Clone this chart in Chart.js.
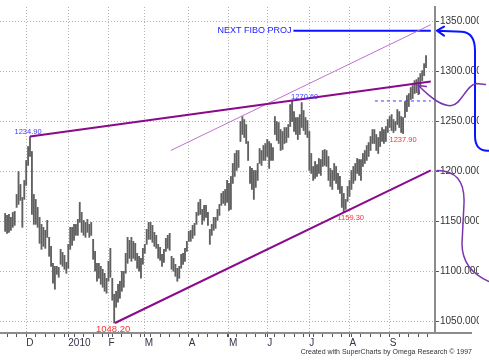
<!DOCTYPE html>
<html>
<head>
<meta charset="utf-8">
<script src="https://cdn.jsdelivr.net/npm/chart.js@4.4.0/dist/chart.umd.min.js"></script>
<style>
  body { margin: 0; background: #fff; }
  #wrap { width: 489px; height: 363px; }
</style>
</head>
<body>
<div id="wrap"><canvas id="chart" width="489" height="363"></canvas></div>
<script>
/** daily bars, low and high, one per trading day from mid Nov 2009 */
const barLows = [
  1140, 1138, 1139, 1141, 1144, 1146, 1164, 1167, 1171, 1144,
  1172, 1186, 1206, 1215, 1157, 1147, 1147, 1144, 1128, 1122,
  1125, 1123, 1134, 1115, 1105, 1088, 1082, 1097, 1094, 1107,
  1105, 1102, 1098, 1103, 1122, 1126, 1131, 1136, 1136, 1149,
  1139, 1136, 1134, 1139, 1134, 1136, 1112, 1100, 1090, 1093,
  1087, 1084, 1080, 1078, 1090, 1094, 1071, 1048.2, 1064, 1069,
  1073, 1080, 1084, 1098, 1108, 1113, 1110, 1113, 1111, 1103,
  1100, 1093, 1107, 1118, 1127, 1132, 1132, 1129, 1125, 1123,
  1113, 1111, 1105, 1109, 1120, 1123, 1121, 1102, 1100, 1095,
  1090, 1093, 1103, 1107, 1110, 1120, 1130, 1130, 1133, 1136,
  1147, 1156, 1157, 1147, 1151, 1154, 1146, 1127, 1136, 1141,
  1143, 1151, 1156, 1166, 1168, 1166, 1169, 1161, 1162, 1188,
  1195, 1201, 1204, 1230, 1237, 1234, 1228, 1211, 1188, 1182,
  1172, 1184, 1191, 1208, 1206, 1211, 1211, 1215, 1203, 1211,
  1211, 1237, 1231, 1228, 1221, 1222, 1228, 1229, 1234, 1245,
  1250, 1240, 1237, 1232, 1237, 1244, 1241, 1237, 1234, 1201,
  1198, 1191, 1193, 1195, 1198, 1196, 1205, 1206, 1205, 1191,
  1185, 1182, 1191, 1188, 1182, 1178, 1164, 1159.3, 1162, 1170,
  1175, 1182, 1188, 1191, 1198, 1196, 1191, 1205, 1208, 1211,
  1215, 1221, 1228, 1228, 1221, 1218, 1225, 1230, 1228, 1230,
  1239, 1244, 1241, 1239, 1241, 1247, 1244, 1239, 1237.9, 1254,
  1260, 1265, 1272, 1273, 1278, 1279, 1277, 1286, 1291, 1296,
  1304
]
const barHighs = [
  1158, 1156, 1157, 1154, 1159, 1160, 1177, 1200, 1187, 1174,
  1191, 1211, 1225, 1234.9, 1220, 1177, 1172, 1164, 1154, 1147,
  1144, 1141, 1151, 1134, 1125, 1108, 1105, 1105, 1104, 1122,
  1119, 1116, 1109, 1127, 1144, 1144, 1147, 1147, 1152, 1169,
  1159, 1151, 1149, 1152, 1147, 1149, 1132, 1120, 1108, 1108,
  1105, 1102, 1098, 1093, 1110, 1123, 1093, 1077, 1080, 1087,
  1090, 1100, 1100, 1118, 1134, 1131, 1134, 1130, 1128, 1118,
  1115, 1113, 1123, 1127, 1142, 1149, 1149, 1146, 1139, 1136,
  1127, 1124, 1117, 1122, 1133, 1136, 1138, 1115, 1113, 1107,
  1103, 1105, 1117, 1118, 1123, 1130, 1140, 1141, 1146, 1148,
  1159, 1169, 1172, 1162, 1166, 1166, 1159, 1142, 1147, 1154,
  1154, 1162, 1167, 1178, 1180, 1182, 1191, 1188, 1195, 1208,
  1218, 1221, 1221, 1250, 1255, 1252, 1247, 1230, 1205, 1203,
  1201, 1201, 1208, 1223, 1221, 1226, 1228, 1232, 1230, 1228,
  1224, 1255, 1250, 1249, 1242, 1240, 1244, 1244, 1247, 1267,
  1270.6, 1260, 1254, 1254, 1257, 1269, 1261, 1254, 1251, 1240,
  1218, 1205, 1210, 1207, 1213, 1212, 1221, 1222, 1221, 1215,
  1203, 1201, 1208, 1205, 1198, 1195, 1185, 1178, 1172, 1185,
  1191, 1201, 1205, 1208, 1213, 1212, 1212, 1218, 1221, 1226,
  1229, 1235, 1242, 1242, 1237, 1234, 1240, 1244, 1242, 1245,
  1252, 1255, 1257, 1252, 1250, 1262, 1260, 1255, 1254, 1270,
  1276, 1278, 1284, 1286, 1291, 1292, 1294, 1298, 1301, 1308,
  1316
]
const monthLabels = ['D', '2010', 'F', 'M', 'A', 'M', 'J', 'J', 'A', 'S']
const monthStarts = [11, 33, 54, 73, 96, 117, 137, 159, 180, 201]
const priceTicks = [1050, 1100, 1150, 1200, 1250, 1300, 1350]
const slotCount = 223

/** trend lines: [start bar, start price, end bar, end price] */
const upperLine = [13, 1234.9, 222.5, 1290]
const fanLine = [86.6, 1221, 222.5, 1347]
const lowerLine = [57.4, 1048.2, 222.5, 1201]
const fiboLevel = 1341
const fiboStart = 150.7
const pivotLevel = 1270.6
const pivotStart = 193.3

const priceNotes = [
  {i: 13, value: 1234.9, text: '1234.90', color: '#3a3aff', dx: -2, dy: -5, size: 7.5},
  {i: 150, value: 1270.6, text: '1270.60', color: '#3a3aff', dx: -1, dy: -4, size: 7.5, align: 'left'},
  {i: 208, value: 1237.9, text: '1237.90', color: '#ff3030', dx: 0, dy: 6, size: 7.5},
  {i: 177, value: 1159.3, text: '1159.30', color: '#ff3030', dx: 7, dy: 6, size: 7.5},
  {i: 57, value: 1048.2, text: '1048.20', color: '#ff3030', dx: -1, dy: 6, size: 9.5}
]

const fontFamily = '"Liberation Sans", Arial, sans-serif'
Chart.defaults.font.family = fontFamily

function segment(line) {
  return [{x: line[0], y: line[1]}, {x: line[2], y: line[3]}]
}

function lineSet(data, color, width, dash) {
  return {
    type: 'line', data: data, borderColor: color, borderWidth: width,
    borderDash: dash || [], pointRadius: 0, order: 1, tension: 0
  }
}

function weekTicks() {
  const ticks = []
  for (let i = 1; i < slotCount; i += 5) ticks.push(i)
  monthStarts.forEach(m => { if (!ticks.includes(m)) ticks.push(m) })
  return ticks.sort((a, b) => a - b)
}

/** price notes, arrows and the footer */
const drawingsPlugin = {
  id: 'drawings',
  afterDatasetsDraw(chart) {
    const {ctx, scales: {x, y}} = chart
    ctx.save()
    ctx.textBaseline = 'middle'
    priceNotes.forEach(n => {
      ctx.font = `${n.size}px ${fontFamily}`
      ctx.fillStyle = n.color
      ctx.textAlign = n.align || 'center'
      ctx.fillText(n.text, x.getPixelForValue(n.i) + n.dx, y.getPixelForValue(n.value) + n.dy)
    })
    ctx.font = `9px ${fontFamily}`
    ctx.fillStyle = '#2020ff'
    ctx.textAlign = 'right'
    ctx.fillText('NEXT FIBO PROJ', x.getPixelForValue(fiboStart) - 2, y.getPixelForValue(fiboLevel))
    ctx.restore()
  },
  afterDraw(chart) {
    const {ctx, chartArea, scales: {x, y}} = chart
    const r = chartArea.right
    ctx.save()
    // axis line runs on under the labels
    ctx.strokeStyle = '#8c8c8c'
    ctx.lineWidth = 2
    ctx.beginPath()
    ctx.moveTo(r, chartArea.bottom)
    ctx.lineTo(r + 37, chartArea.bottom)
    ctx.stroke()
    ctx.fillStyle = '#fff'
    ctx.fillRect(r + 44, 0, 20, chartArea.bottom - 2)

    ctx.lineCap = 'round'
    ctx.lineJoin = 'round'
    // blue arrow
    const fy = y.getPixelForValue(fiboLevel)
    ctx.strokeStyle = '#0a14ff'
    ctx.lineWidth = 2
    ctx.beginPath()
    ctx.moveTo(r + 2, fy)
    ctx.lineTo(r + 27, fy + 1)
    ctx.quadraticCurveTo(r + 40, fy + 2, r + 40, fy + 20)
    ctx.lineTo(r + 40, fy + 105)
    ctx.quadraticCurveTo(r + 40, fy + 121, r + 54, fy + 120)
    ctx.moveTo(r + 9, fy - 4)
    ctx.lineTo(r + 2, fy)
    ctx.lineTo(r + 9, fy + 5)
    ctx.stroke()

    // purple arrow at the break
    const tx = x.getPixelForValue(216)
    const ty = y.getPixelForValue(1286)
    ctx.strokeStyle = '#7a35b0'
    ctx.lineWidth = 1.5
    ctx.beginPath()
    ctx.moveTo(tx, ty)
    ctx.bezierCurveTo(tx + 14, ty + 14, tx + 24, ty + 21, tx + 33, ty + 20)
    ctx.bezierCurveTo(tx + 43, ty + 19, tx + 48, ty - 1, tx + 58, ty - 2)
    ctx.lineTo(tx + 67, ty - 1)
    ctx.moveTo(tx + 8, ty + 1)
    ctx.lineTo(tx, ty)
    ctx.lineTo(tx + 1, ty + 8)
    ctx.stroke()

    // purple arrow at the lower line
    const ly = y.getPixelForValue(lowerLine[3])
    ctx.beginPath()
    ctx.moveTo(r + 2, ly)
    ctx.bezierCurveTo(r + 20, ly, r + 30, ly + 10, r + 29, ly + 33)
    ctx.lineTo(r + 27, ly + 73)
    ctx.bezierCurveTo(r + 27, ly + 95, r + 40, ly + 105, r + 54, ly + 111)
    ctx.stroke()

    ctx.font = `7px ${fontFamily}`
    ctx.fillStyle = '#333'
    ctx.textAlign = 'right'
    ctx.textBaseline = 'middle'
    ctx.fillText('Created with SuperCharts by Omega Research \u00a9 1997', r + 37, chartArea.bottom + 19)
    ctx.restore()
  }
}

new Chart(document.getElementById('chart'), {
  type: 'bar',
  data: {
    datasets: [
      {
        type: 'bar',
        data: barLows.map((lo, i) => ({x: i, y: [lo, barHighs[i]]})),
        backgroundColor: '#606060',
        barThickness: 1.2,
        order: 10
      },
      lineSet(segment(upperLine), '#8a0a8a', 2),
      lineSet(segment(fanLine), '#c070d0', 1),
      lineSet(segment(lowerLine), '#8a0a8a', 2),
      lineSet([{x: fiboStart, y: fiboLevel}, {x: slotCount - 0.5, y: fiboLevel}], '#0a14ff', 2),
      lineSet([{x: pivotStart, y: pivotLevel}, {x: slotCount - 0.5, y: pivotLevel}], '#3a3aff', 1, [3, 3])
    ]
  },
  options: {
    responsive: false,
    animation: false,
    layout: { padding: 0 },
    plugins: { legend: { display: false }, tooltip: { enabled: false } },
    scales: {
      x: {
        type: 'linear',
        min: -0.5,
        max: slotCount - 0.5,
        afterBuildTicks: s => { s.ticks = weekTicks().map(v => ({value: v})) },
        afterFit: s => { s.height = 30 },
        ticks: {
          autoSkip: false, maxRotation: 0, align: 'start', padding: 0,
          color: '#33334a', font: { size: 10 },
          callback: v => {
            const k = monthStarts.indexOf(v)
            return k >= 0 ? monthLabels[k] : ''
          }
        },
        grid: {
          color: c => c.tick && monthStarts.includes(c.tick.value) ? '#b4b4b4' : 'rgba(0,0,0,0)',
          tickColor: '#555', tickLength: 4, offset: false
        },
        border: { color: '#8c8c8c', width: 2, dash: [1, 2] }
      },
      y: {
        position: 'right',
        min: 1038.2,
        max: 1364.7,
        afterBuildTicks: s => { s.ticks = priceTicks.map(v => ({value: v})) },
        afterFit: s => { s.width = 54 },
        ticks: { padding: 1, color: '#333', font: { size: 10 }, callback: v => v.toFixed(3) },
        grid: { color: '#b4b4b4', tickColor: '#555', tickLength: 4 },
        border: { color: '#8c8c8c', width: 2, dash: [1, 2] }
      }
    }
  },
  plugins: [drawingsPlugin]
})
</script>
</body>
</html>
